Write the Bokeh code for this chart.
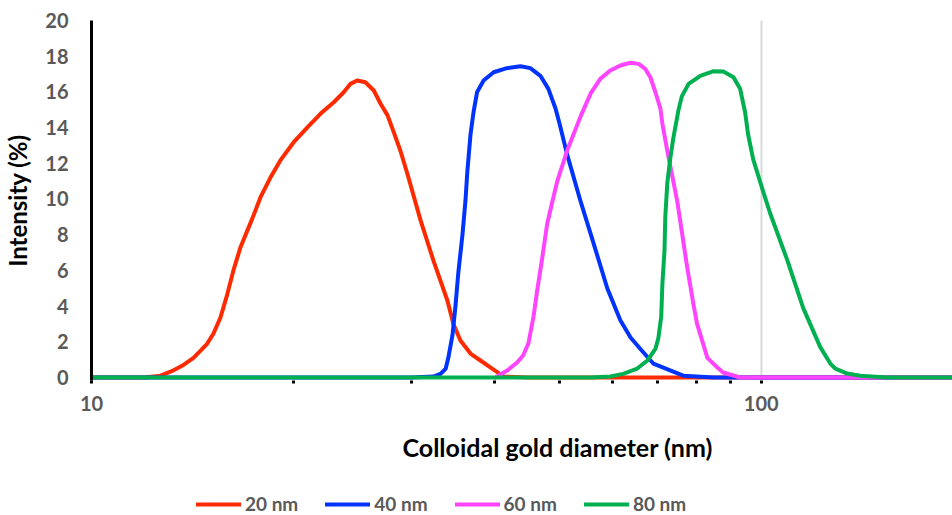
from bokeh.plotting import figure
from bokeh.layouts import column
from bokeh.models import Range1d, FixedTicker, Span, Legend, LegendItem, Title
from bokeh.embed import file_html
from bokeh.resources import INLINE

# Intensity-weighted size distributions of colloidal gold standards
d20 = [10.0, 12.0, 12.68, 13.26, 13.72, 14.2, 14.55, 14.89, 15.21, 15.58, 15.96, 16.29,
       16.69, 17.38, 17.88, 18.5, 19.14, 20.04, 20.99, 21.97, 23.0, 23.8, 24.36, 24.92,
       25.64, 26.39, 27.0, 27.66, 28.23, 28.92, 29.63, 31.0, 32.4, 34.0, 34.7,
       35.55, 36.8, 38.08, 39.4, 40.4, 41.2, 45.0, 100.0, 200.0]
i20 = [0.0, 0.0, 0.1, 0.4, 0.7, 1.1, 1.5, 1.9, 2.46, 3.36, 4.7, 6.0,
       7.3, 8.9, 10.1, 11.2, 12.16, 13.18, 14.0, 14.77, 15.42, 15.98, 16.45, 16.64,
       16.54, 16.08, 15.35, 14.7, 13.8, 12.7, 11.4, 8.8, 6.55, 4.3, 3.0,
       2.07, 1.34, 0.95, 0.56, 0.28, 0.05, 0.0, 0.0, 0.0]

d40 = [10.0, 30.0, 32.4, 33.2, 33.8, 34.1, 34.6, 34.95, 35.3, 35.8, 36.17, 36.4, 36.8,
       37.2, 37.65, 38.5, 39.85, 41.7, 43.7, 45.2, 46.8, 48.1, 49.3, 50.0, 51.3,
       53.7, 56.1, 58.9, 61.6, 63.8, 66.7, 69.0, 73.1, 76.5, 85.0, 200.0]
i40 = [0.0, 0.0, 0.05, 0.2, 0.5, 1.1, 2.4, 4.0, 5.9, 8.0, 9.9, 11.5, 13.6,
       14.9, 16.0, 16.64, 17.1, 17.33, 17.44, 17.33, 16.9, 16.17, 15.07, 14.2, 12.5,
       9.9, 7.6, 5.0, 3.2, 2.24, 1.4, 0.78, 0.4, 0.1, 0.0, 0.0]

d60 = [40.1, 41.8, 43.2, 44.1, 44.9, 45.7, 46.3, 47.1, 47.9, 48.8, 49.6, 51.3, 53.7,
       55.6, 57.5, 59.5, 61.6, 63.8, 65.6, 67.1, 68.3, 69.5, 70.7, 71.2, 72.4, 74.9,
       77.5, 79.2, 80.2, 83.1, 86.0, 87.7, 93.0, 200.0]
i60 = [0.0, 0.4, 0.84, 1.23, 1.9, 3.4, 4.9, 6.7, 8.6, 9.9, 11.0, 12.7, 14.6,
       15.9, 16.73, 17.2, 17.48, 17.63, 17.57, 17.29, 16.82, 15.98, 15.07, 14.2, 12.7, 9.9,
       6.2, 4.1, 3.0, 1.1, 0.56, 0.28, 0.0, 0.0]

d80 = [10.0, 55.6, 59.5, 62.2, 65.3, 67.6, 69.5, 70.2, 70.9, 71.2, 71.7, 71.9, 72.4,
       73.1, 73.9, 75.25, 76.1, 77.9, 81.1, 84.9, 87.8, 90.9, 93.0, 94.6, 95.6, 97.3,
       100.7, 103.1, 109.3, 115.5, 122.5, 126.8, 129.0, 134.4, 140.5, 154.2, 200.0]
i80 = [0.0, 0.0, 0.05, 0.2, 0.5, 0.95, 1.6, 2.2, 3.4, 5.3, 7.1, 9.0, 10.9,
       12.2, 13.4, 15.0, 15.75, 16.45, 16.9, 17.16, 17.14, 16.82, 16.17, 14.86, 13.6, 12.2,
       10.4, 9.2, 6.6, 3.9, 1.7, 0.78, 0.5, 0.22, 0.1, 0.0, 0.0]

names = ["20 nm", "40 nm", "60 nm", "80 nm"]
colors = ["#FF2A00", "#0033FF", "#FF44FF", "#00B050"]

x_major = [10, 100]
x_major_labels = ["10", "100"]
x_minor = [20, 30, 40, 50, 60, 70, 80, 90, 200]
y_ticks = [0, 2, 4, 6, 8, 10, 12, 14, 16, 18, 20]

FONT = "Lato"
GREY = "#595959"

p = figure(width=952, height=491, x_axis_type="log",
           x_range=Range1d(10, 193), y_range=Range1d(-0.17, 20),
           output_backend="svg", toolbar_location=None,
           min_border_left=91, min_border_right=0,
           min_border_top=20, min_border_bottom=111)
p.outline_line_color = None

# baseline at zero, beneath the curves
p.add_layout(Span(location=0, dimension="width", line_color="black",
                  line_width=2, level="underlay"))

for xs, ys, c in zip([d20, d40, d60, d80], [i20, i40, i60, i80], colors):
    p.line(xs, ys, line_color=c, line_width=4, line_join="round", line_cap="round")

# x axis: log scale, labelled decades, minor marks on 20..90
xa = p.xaxis[0]
xa.ticker = FixedTicker(ticks=x_major, minor_ticks=x_minor)
xa.major_label_overrides = dict(zip(x_major, x_major_labels))
xa.axis_line_color = None
xa.major_tick_in = 0
xa.major_tick_out = 3
xa.major_tick_line_width = 3
xa.major_tick_line_color = "black"
xa.minor_tick_in = 0
xa.minor_tick_out = 3
xa.minor_tick_line_width = 3
xa.minor_tick_line_color = "black"
xa.major_label_standoff = 12
xa.major_label_text_font = FONT
xa.major_label_text_font_style = "bold"
xa.major_label_text_font_size = "20px"
xa.major_label_text_color = GREY

ya = p.yaxis[0]
ya.ticker = FixedTicker(ticks=y_ticks)
ya.axis_line_color = "black"
ya.axis_line_width = 3
ya.major_tick_in = 0
ya.major_tick_out = 0
ya.major_tick_line_color = None
ya.minor_tick_line_color = None
ya.major_label_standoff = 23
ya.major_label_text_font = FONT
ya.major_label_text_font_style = "bold"
ya.major_label_text_font_size = "20px"
ya.major_label_text_color = GREY
ya.axis_label = "Intensity (%)"
ya.axis_label_standoff = 10
ya.axis_label_text_font = FONT
ya.axis_label_text_font_style = "bold"
ya.axis_label_text_font_size = "24px"
ya.axis_label_text_color = "black"

p.xgrid.grid_line_color = "#D9D9D9"
p.xgrid.grid_line_width = 2
p.ygrid.visible = False

# x-axis title, set a little right of the frame centre
p.add_layout(Title(text="Colloidal gold diameter (nm)", align="left", offset=311,
                   standoff=32, text_font=FONT, text_font_style="bold",
                   text_font_size="25px", text_color="black"), "below")

# legend strip underneath the chart; the key renderers hold a single NaN point
lf = figure(width=952, height=24, x_range=Range1d(0, 1), y_range=Range1d(0, 1),
            output_backend="svg", toolbar_location=None,
            x_axis_location=None, y_axis_location=None, min_border=0)
lf.outline_line_color = None
lf.grid.visible = False
nan = float("nan")
keys = [lf.line([nan], [nan], line_color=c, line_width=4, line_cap="round")
        for c in colors]

legend = Legend(
    items=[LegendItem(label=n, renderers=[r]) for n, r in zip(names, keys)],
    orientation="horizontal", location=(105, 0),
    padding=0, margin=0, spacing=27,
    glyph_width=45, glyph_height=18, label_height=18, label_standoff=4,
    border_line_color=None, background_fill_alpha=0,
    label_text_font=FONT, label_text_font_style="bold",
    label_text_font_size="19px", label_text_color=GREY,
)
lf.add_layout(legend)

open("out.html", "w").write(file_html(column(p, lf, spacing=0), INLINE))
